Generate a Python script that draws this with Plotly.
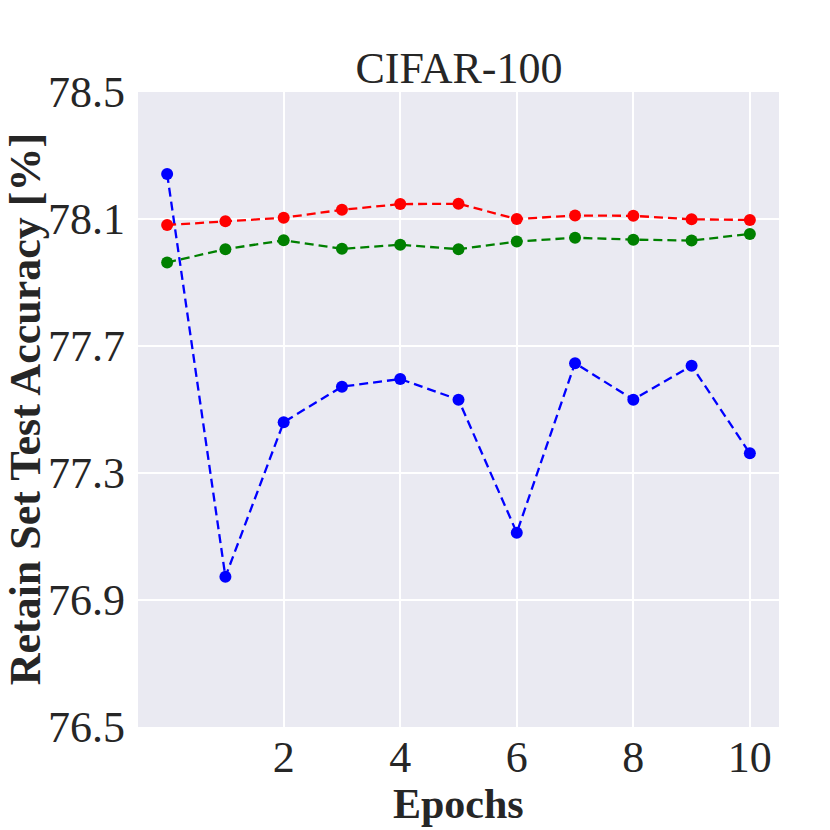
import plotly.graph_objects as go

epochs = [0, 1, 2, 3, 4, 5, 6, 7, 8, 9, 10]
blue_vals = [78.242, 76.973, 77.460, 77.572, 77.596, 77.531, 77.112, 77.646, 77.531, 77.638, 77.362]
red_vals = [78.081, 78.093, 78.104, 78.129, 78.147, 78.148, 78.100, 78.111, 78.110, 78.099, 78.097]
green_vals = [77.963, 78.005, 78.033, 78.006, 78.019, 78.005, 78.029, 78.041, 78.035, 78.032, 78.053]

x_ticks = [2, 4, 6, 8, 10]
y_ticks = [76.5, 76.9, 77.3, 77.7, 78.1, 78.5]
y_tick_labels = ["76.5", "76.9", "77.3", "77.7", "78.1", "78.5"]

title_text = "CIFAR-100"
x_title = "Epochs"
y_title = "Retain Set Test Accuracy [%]"

FONT = "Liberation Serif"
TXT = "#262626"

fig = go.Figure()
for vals, col in [(blue_vals, "#0000FF"), (red_vals, "#FF0000"), (green_vals, "#008000")]:
    fig.add_trace(go.Scatter(
        x=epochs, y=vals, mode="lines+markers",
        line=dict(color=col, width=2.3, dash="9px,5px"),
        marker=dict(color=col, size=12),
        showlegend=False,
    ))

fig.update_layout(
    width=830, height=830,
    margin=dict(l=130, r=59, t=84, b=111),
    paper_bgcolor="white",
    plot_bgcolor="#EAEAF2",
    font=dict(family=FONT, color=TXT),
    title=dict(text=title_text, x=0.5434, xanchor="center", y=0.91, yanchor="bottom",
               font=dict(family=FONT, size=44, color=TXT)),
    annotations=[
        dict(text="<b>" + x_title + "</b>", xref="paper", yref="paper", x=0.5, y=-0.122,
             xanchor="center", yanchor="middle", showarrow=False,
             font=dict(family=FONT, size=42, color=TXT)),
        dict(text="<b>" + y_title + "</b>", xref="paper", yref="paper", x=-0.175, y=0.5,
             xanchor="center", yanchor="middle", showarrow=False, textangle=-90,
             font=dict(family=FONT, size=44, color=TXT)),
    ],
)
fig.update_xaxes(
    range=[-0.5, 10.5], tickvals=x_ticks, ticktext=[str(v) for v in x_ticks],
    showgrid=True, gridcolor="white", gridwidth=1.5, zeroline=False, showline=False,
    ticks="", tickfont=dict(family=FONT, size=44, color=TXT), automargin=False,
)
fig.update_yaxes(
    range=[76.5, 78.5], tickvals=y_ticks, ticktext=y_tick_labels,
    showgrid=True, gridcolor="white", gridwidth=1.5, zeroline=False, showline=False,
    ticks="", tickfont=dict(family=FONT, size=44, color=TXT), ticklabelstandoff=12,
    automargin=False,
)

fig.write_html("out.html")
